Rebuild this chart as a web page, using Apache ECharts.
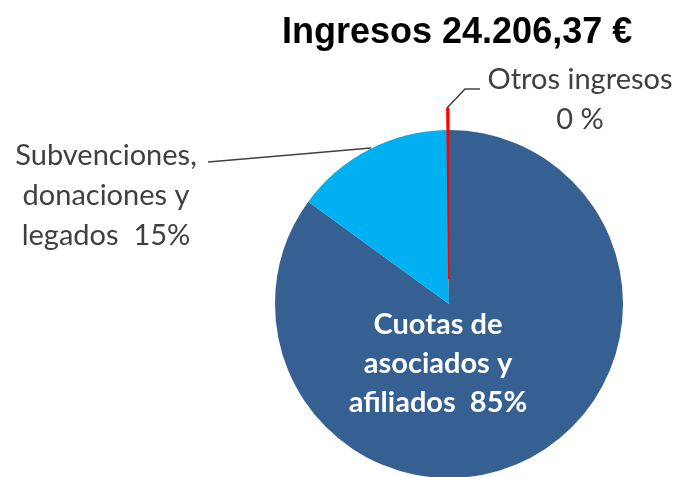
<!DOCTYPE html>
<html>
<head>
<meta charset="utf-8" />
<script src="https://cdn.jsdelivr.net/npm/echarts@6/dist/echarts.min.js"></script>
<style>
	html, body { margin: 0; padding: 0; background: #fff; }
	#main { width: 680px; height: 477px; }
</style>
</head>
<body>
<div id="main"></div>
<script type="text/javascript">
	// datos del gráfico
	var titulo = 'Ingresos 24.206,37 €';
	var categorias = ['Cuotas de\nasociados y\nafiliados', 'Subvenciones,\ndonaciones y\nlegados', 'Otros ingresos'];
	var importes = [20575.00, 3585.00, 46.37];
	var colores = ['#366092', '#00B0F0', '#FF0000'];

	var myChart = echarts.init(document.getElementById('main'));

	var datos = [];
	var datosSeparado = []; // la porción "otros" sale hacia fuera
	for (var i = 0; i < categorias.length; i++) {
		datos.push({
			name: categorias[i],
			value: importes[i],
			itemStyle: { color: colores[i] }
		});
		datosSeparado.push({
			name: categorias[i],
			value: importes[i],
			itemStyle: i === 2 ? { color: colores[i], borderColor: colores[i], borderWidth: 1 } : { color: 'rgba(0,0,0,0)' }
		});
	}
	// cuotas: etiqueta dentro, en blanco
	datos[0].label = { position: 'inside', overflow: 'none', color: '#fff', fontWeight: 'bold', fontSize: 29, lineHeight: 39 };
	datos[0].labelLine = { show: false };

	// posiciones de las etiquetas
	var posEtiquetas = [
		{ x: 438, y: 364 },
		{ x: 106, y: 196 },
		{ x: 580, y: 100 }
	];
	var lineas = [
		null,
		[[371, 148], [290, 155], [208, 162]],
		[[447, 108], [465, 89], [480, 89]]
	];

	var option = {
		animation: false,
		title: {
			text: titulo,
			left: 277,
			top: 10,
			textStyle: { fontFamily: 'Liberation Sans', fontWeight: 'bold', fontSize: 36, color: '#000' }
		},
		series: [{
			type: 'pie',
			center: [449, 304],
			radius: 174,
			startAngle: 90,
			clockwise: true,
			emphasis: { disabled: true },
			label: {
				show: true,
				position: 'outside',
				fontFamily: 'Lato',
				fontSize: 29,
				lineHeight: 40,
				color: '#404040',
				align: 'center',
				formatter: function (p) {
					var pct = Math.round(p.percent);
					if (p.dataIndex === 2) return p.name + '\n' + pct + ' %';
					return p.name + '  ' + pct + '%';
				}
			},
			labelLine: { show: true, lineStyle: { color: '#404040', width: 1.5 } },
			labelLayout: function (p) {
				var pos = posEtiquetas[p.dataIndex];
				var res = { x: pos.x, y: pos.y, align: 'center', verticalAlign: 'middle' };
				if (lineas[p.dataIndex]) res.labelLinePoints = lineas[p.dataIndex];
				return res;
			},
			data: datos
		}, {
			type: 'pie',
			center: [449, 304],
			radius: [25, 196],
			startAngle: 90,
			clockwise: true,
			silent: true,
			label: { show: false },
			labelLine: { show: false },
			data: datosSeparado
		}]
	};

	myChart.setOption(option);
</script>
</body>
</html>
